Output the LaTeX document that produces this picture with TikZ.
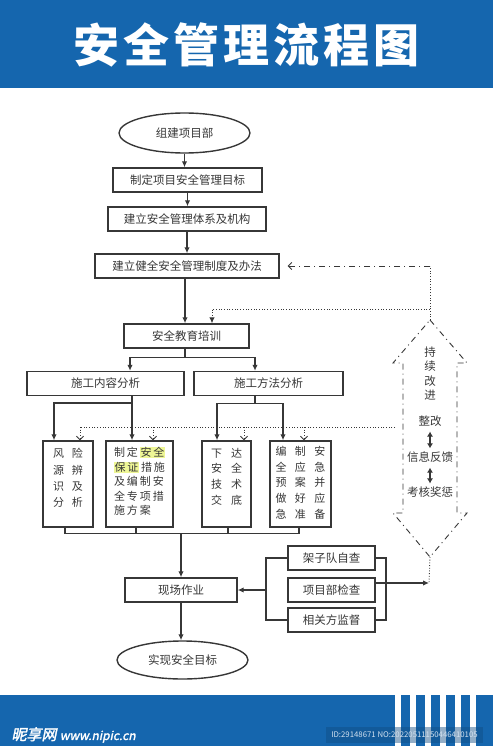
\documentclass[tikz,border=0pt]{standalone}
\usepackage{fontspec}
\setmainfont{Noto Sans CJK SC}
\newfontfamily\logofont[FakeSlant=0.2,FakeBold=2]{Noto Sans CJK SC}
\usepackage{tikz}
\usetikzlibrary{arrows.meta,shapes.geometric,positioning}

\definecolor{bannerBlue}{RGB}{21,102,174}
\definecolor{lineGray}{RGB}{55,55,55}
\definecolor{markYellow}{RGB}{238,246,150}

% yellow marker behind a few characters
\newcommand{\marked}[1]{{\setlength{\fboxsep}{0.5pt}\colorbox{markYellow}{#1}}}
\newcommand{\sg}{\hspace{2pt}}

\begin{document}
\begin{tikzpicture}[>={Latex[length=6pt,width=5.5pt]}, x=1pt, y=-1pt]
  \tikzstyle{stepBox} = [draw=lineGray, line width=1.4pt, fill=white, rectangle, minimum height=24pt, inner sep=2pt, text=lineGray, font={\fontsize{11.5}{13}\selectfont}]
  \tikzstyle{endBox} = [stepBox, ellipse, minimum width=131pt, minimum height=40pt]
  \tikzstyle{tallBox} = [draw=lineGray, line width=1.4pt, rectangle, minimum height=86pt]
  \tikzstyle{tallText} = [align=left, text=lineGray, inner sep=0pt]
  \tikzstyle{flowLine} = [lineGray, line width=1.2pt]
  \tikzstyle{flowEdge} = [flowLine, ->]
  \tikzstyle{feedDot} = [lineGray, line width=0.9pt, dash pattern=on 0.9pt off 1.8pt]
  \tikzstyle{feedDash} = [lineGray, line width=0.9pt, dash pattern=on 6pt off 4pt on 1pt off 4pt]
  \tikzstyle{openTip} = [-{Straight Barb[length=3.5pt,width=7pt]}]
  \tikzstyle{arrowText} = [text=lineGray, inner sep=2pt, align=center, font={\fontsize{11.5}{14.3}\selectfont}]

  \useasboundingbox (0,0) rectangle (493,746);

  % banners
  \fill[bannerBlue] (0,0) rectangle (493,88);
  \node[text=white, font={\fontsize{46}{50}\selectfont\bfseries}] (title) at (246.5,45) {安\hspace{4pt}全\hspace{4pt}管\hspace{4pt}理\hspace{4pt}流\hspace{4pt}程\hspace{4pt}图};
  \fill[bannerBlue] (0,695) rectangle (493,746);
  \foreach \x in {395,410,...,470}
    \fill[white] (\x,695) rectangle ++(6,51);
  \node[anchor=west, text=white, font={\logofont\fontsize{15}{15}\selectfont}] (logo) at (8,735) {昵享网 {\fontsize{12}{12}\selectfont www.nipic.cn}};
  \fill[bannerBlue!75!black, opacity=0.45] (326,727) rectangle (483,743);
  \node[text=white!80!bannerBlue, font={\fontsize{7.8}{8}\selectfont}] (idTag) at (404.5,735) {ID:29148671 NO:20220511150446410105};

  % main column
  \node[endBox]                        (A) at (184.5,133) {组建项目部};
  \node[stepBox, minimum width=149pt]  (B) at (187.5,180) {制定项目安全管理目标};
  \node[stepBox, minimum width=158pt]  (C) at (187,219)   {建立安全管理体系及机构};
  \node[stepBox, minimum width=184pt]  (D) at (187,266)   {建立健全安全管理制度及办法};
  \node[stepBox, minimum width=125pt]  (E) at (186.5,336) {安全教育培训};
  \node[stepBox, minimum width=157pt]  (F) at (105.5,383.5) {施工内容分析};
  \node[stepBox, minimum width=149pt]  (G) at (268.5,383.5) {施工方法分析};

  \node[tallBox, minimum width=50pt] (H1) at (68,484) {};
  \node[tallBox, minimum width=67pt] (H2) at (139.5,484) {};
  \node[tallBox, minimum width=49pt] (H3) at (226.5,484) {};
  \node[tallBox, minimum width=61pt] (H4) at (300.5,484) {};
  \node[tallText, below=8pt of H1.north, font={\fontsize{11}{16.3}\selectfont}] (T1) {风\hspace{8pt}险\\源\hspace{8pt}辨\\识\hspace{8pt}及\\分\hspace{8pt}析};
  \node[tallText, below=6.5pt of H2.north, font={\fontsize{11}{14.5}\selectfont}] (T2) {制\sg 定\sg\marked{安\sg 全}\\\marked{保\sg 证}\sg 措\sg 施\\及\sg 编\sg 制\sg 安\\全\sg 专\sg 项\sg 措\\施\sg 方\sg 案};
  \node[tallText, below=7.5pt of H3.north, font={\fontsize{11}{15.7}\selectfont}] (T3) {下\hspace{9pt}达\\安\hspace{9pt}全\\技\hspace{9pt}术\\交\hspace{9pt}底};
  \node[tallText, below=5.5pt of H4.north, font={\fontsize{11}{15.8}\selectfont}] (T4) {编\hspace{8.5pt}制\hspace{8.5pt}安\\全\hspace{8.5pt}应\hspace{8.5pt}急\\预\hspace{8.5pt}案\hspace{8.5pt}并\\做\hspace{8.5pt}好\hspace{8.5pt}应\\急\hspace{8.5pt}准\hspace{8.5pt}备};

  \node[stepBox, minimum width=112pt] (J) at (181,590) {现场作业};
  \node[endBox, minimum height=38pt]  (K) at (182.5,660) {实现安全目标};

  \node[stepBox, minimum width=87pt] (L1) at (331.5,558) {架子队自查};
  \node[stepBox, minimum width=87pt] (L2) at (331.5,590) {项目部检查};
  \node[stepBox, minimum width=87pt] (L3) at (331.5,620) {相关方监督};

  \path (A.south) edge[flowEdge] (A.south |- B.north)
        (B.south) edge[flowEdge] (B.south |- C.north)
        (C.south) edge[flowEdge] (C.south |- D.north)
        ([xshift=-2pt]D.south) edge[flowEdge] ([xshift=-2pt]D.south |- E.north)
        (J.south) edge[flowEdge] (J.south |- K.north);

  % split into the two analyses
  \draw[flowLine] ([xshift=-1.5pt]E.south) -- ++(0,9) coordinate (e1);
  \draw[flowEdge] (e1) -| ([xshift=24.5pt]F.north);
  \draw[flowEdge] (e1) -| ([xshift=-13.5pt]G.north);

  \draw[flowEdge] ([xshift=-7.5pt]H2.north |- F.south) -- ([xshift=-7.5pt]H2.north);
  \draw[flowEdge] ([xshift=-7.5pt]H2.north |- 0,403) -| ([xshift=-14pt]H1.north);
  \draw[flowLine] ([xshift=-13.5pt]G.south) -- ++(0,7) coordinate (g1);
  \draw[flowEdge] (g1) -| ([xshift=-9.5pt]H3.north);
  \draw[flowEdge] (g1) -| ([xshift=-17.5pt]H4.north);

  % join into site work
  \draw[flowLine] ([xshift=-3pt]H1.south) -- ++(0,6) -| ([xshift=-1.5pt]H4.south);
  \draw[flowLine] ([xshift=-3.5pt]H2.south) -- ++(0,6);
  \draw[flowLine] ([xshift=1.5pt]H3.south) -- ++(0,6);
  \draw[flowEdge] ([yshift=-6pt]J.north |- H1.south) -- (J.north);

  % checks
  \coordinate (brL) at (266,590);
  \coordinate (brR) at (386,583);
  \coordinate (fbBot) at (429,583);
  \draw[flowLine] (L1.west) -| (brL) |- (L3.west);
  \draw[flowEdge] (brL) -- (J.east);
  \draw[flowLine] (L1.east) -| (brR) |- (L3.east);
  \draw[flowEdge] ([yshift=7pt]L2.east) -- (fbBot);

  % continual improvement arrow
  \coordinate (upTip) at (430,320);
  \coordinate (downTip) at (430,557);
  \coordinate (fbTop) at (430,266);
  \coordinate (fbMid) at (430,309);
  \coordinate (fbLow) at (395,427);
  \draw[feedDash] (upTip) -- (467,363) -- (457,363) -- (457,513) -- (467,513) -- (downTip)
                  -- (393,513) -- (403,513) -- (403,363) -- (393,363) -- cycle;
  \draw[feedDot] (upTip) -- (fbTop);
  \draw[feedDot] (downTip) -- (fbBot);
  \draw[feedDash, openTip] (fbTop) -- ([xshift=8pt]D.east);
  \draw[feedDot,->] (fbMid) -| ([xshift=25.5pt]E.north);
  \draw[feedDot] (fbLow) -- (80,427);
  \draw[feedDot, openTip] ([xshift=12pt]H1.north |- fbLow) -- ([xshift=12pt]H1.north);
  \draw[feedDot, openTip] ([xshift=13.5pt]H2.north |- fbLow) -- ([xshift=13.5pt]H2.north);
  \draw[feedDot, openTip] ([xshift=17.5pt]H3.north |- fbLow) -- ([xshift=17.5pt]H3.north);
  \draw[feedDot, openTip] ([xshift=3.5pt]H4.north |- fbLow) -- ([xshift=3.5pt]H4.north);

  \node[arrowText] (M1) at (430,373.5) {持\\续\\改\\进};
  \node[arrowText] (M2) at (430,421) {整改};
  \node[arrowText] (M3) at (430,457) {信息反馈};
  \node[arrowText] (M4) at (430,492) {考核奖惩};
  \draw[flowLine, {Latex[length=5pt,width=6pt]}-{Latex[length=5pt,width=6pt]}, shorten <=3pt, shorten >=1pt] (M2) -- (M3);
  \draw[flowLine, {Latex[length=5pt,width=6pt]}-{Latex[length=5pt,width=6pt]}, shorten <=3pt, shorten >=1pt] (M3) -- (M4);
\end{tikzpicture}
\end{document}
